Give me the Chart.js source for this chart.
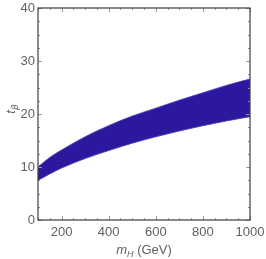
<!DOCTYPE html>
<html><head><meta charset="utf-8">
<script src="https://cdn.jsdelivr.net/npm/chart.js@4"></script>
<style>html,body{margin:0;padding:0;background:#fff}#wrap{width:266px;height:259px}</style>
</head><body><div id="wrap"><canvas id="c" width="266" height="259"></canvas></div>
<script>
const massValues = [100, 150, 200, 300, 400, 500, 600, 700, 800, 900, 1000];
const upperTanBeta = [10.0, 11.8, 13.2, 15.7, 17.8, 19.6, 21.1, 22.6, 24.0, 25.4, 26.6];
const lowerTanBeta = [7.5, 8.7, 9.8, 11.6, 13.1, 14.5, 15.7, 16.8, 17.8, 18.7, 19.5];
const xTickLabels = [200, 400, 600, 800, 1000];
const yTickLabels = [0, 10, 20, 30, 40];

const bandColor = '#2c189e';
const textColor = '#5f5f5f';
const frameColor = '#3c3c3c';

const framePlugin = {
  id: 'frame',
  afterDraw(chart) {
    const {ctx, chartArea: a, scales: {x, y}} = chart;
    ctx.save();
    ctx.strokeStyle = '#999';
    ctx.lineWidth = 1;
    for (let v = 100; v <= 1000; v += 50) {
      const px = Math.round(x.getPixelForValue(v)) + 0.5;
      const len = (v % 200 === 0) ? 4 : 2;
      ctx.beginPath();
      ctx.moveTo(px, a.bottom); ctx.lineTo(px, a.bottom - len);
      ctx.moveTo(px, a.top); ctx.lineTo(px, a.top + len);
      ctx.stroke();
    }
    for (let v = 0; v <= 40; v += 2.5) {
      const py = Math.round(y.getPixelForValue(v)) + 0.5;
      const len = (v % 10 === 0) ? 4 : 2;
      ctx.beginPath();
      ctx.moveTo(a.left, py); ctx.lineTo(a.left + len, py);
      ctx.moveTo(a.right, py); ctx.lineTo(a.right - len, py);
      ctx.stroke();
    }
    ctx.strokeStyle = frameColor;
    ctx.lineWidth = 1.2;
    ctx.strokeRect(a.left, a.top, a.right - a.left, a.bottom - a.top);
    ctx.fillStyle = textColor;
    ctx.textBaseline = 'alphabetic';
    const cx = (a.left + a.right) / 2;
    const yb = 254;
    ctx.font = 'italic 13px "Liberation Sans", Arial, sans-serif';
    const wM = ctx.measureText('m').width;
    ctx.font = 'italic 9px "Liberation Sans", Arial, sans-serif';
    const wH = ctx.measureText('H').width;
    ctx.font = '13px "Liberation Sans", Arial, sans-serif';
    const wG = ctx.measureText(' (GeV)').width;
    let sx = cx - (wM + wH + wG) / 2;
    ctx.textAlign = 'left';
    ctx.font = 'italic 13px "Liberation Sans", Arial, sans-serif';
    ctx.fillText('m', sx, yb); sx += wM;
    ctx.font = 'italic 9px "Liberation Sans", Arial, sans-serif';
    ctx.fillText('H', sx, yb + 3); sx += wH;
    ctx.font = '13px "Liberation Sans", Arial, sans-serif';
    ctx.fillText(' (GeV)', sx, yb);
    ctx.save();
    ctx.translate(15, (a.top + a.bottom) / 2 - 5);
    ctx.rotate(-Math.PI / 2);
    ctx.font = 'italic 13px "Liberation Sans", Arial, sans-serif';
    const wt = ctx.measureText('t').width;
    ctx.font = 'italic 9px "DejaVu Sans", sans-serif';
    const wb = ctx.measureText('β').width;
    let ty = -(wt + wb) / 2;
    ctx.font = 'italic 13px "Liberation Sans", Arial, sans-serif';
    ctx.fillText('t', ty, 0);
    ctx.font = 'italic 9px "DejaVu Sans", sans-serif';
    ctx.fillText('β', ty + wt, 3);
    ctx.restore();
    ctx.restore();
  }
};

new Chart(document.getElementById('c'), {
  type: 'line',
  data: {
    datasets: [
      {
        data: massValues.map((m, i) => ({x: m, y: lowerTanBeta[i]})),
        borderColor: 'rgba(70,60,180,0.9)', borderWidth: 1, pointRadius: 0,
        cubicInterpolationMode: 'monotone', fill: false
      },
      {
        data: massValues.map((m, i) => ({x: m, y: upperTanBeta[i]})),
        borderColor: 'rgba(70,60,180,0.9)', borderWidth: 1, pointRadius: 0,
        cubicInterpolationMode: 'monotone', fill: '-1', backgroundColor: bandColor
      }
    ]
  },
  options: {
    responsive: false, animation: false,
    layout: {padding: {left: 0, right: 16, top: 8, bottom: 0}},
    plugins: {legend: {display: false}, tooltip: {enabled: false}},
    scales: {
      x: {
        type: 'linear', min: 100, max: 1000,
        afterBuildTicks: s => { s.ticks = xTickLabels.map(v => ({value: v})); },
        afterFit: s => { s.height = 39; s.paddingLeft = 0; s.paddingRight = 0; },
        grid: {display: false, drawTicks: false},
        border: {display: false},
        ticks: {color: textColor, padding: 5, maxRotation: 0,
                callback: v => String(v),
                font: {family: '"Liberation Sans", Arial, sans-serif', size: 13}}
      },
      y: {
        min: 0, max: 40,
        afterBuildTicks: s => { s.ticks = yTickLabels.map(v => ({value: v})); },
        afterFit: s => { s.width = 38; s.paddingTop = 0; s.paddingBottom = 0; },
        grid: {display: false, drawTicks: false},
        border: {display: false},
        ticks: {color: textColor, padding: 3,
                callback: v => String(v),
                font: {family: '"Liberation Sans", Arial, sans-serif', size: 13}}
      }
    }
  },
  plugins: [framePlugin]
});
</script></body></html>
